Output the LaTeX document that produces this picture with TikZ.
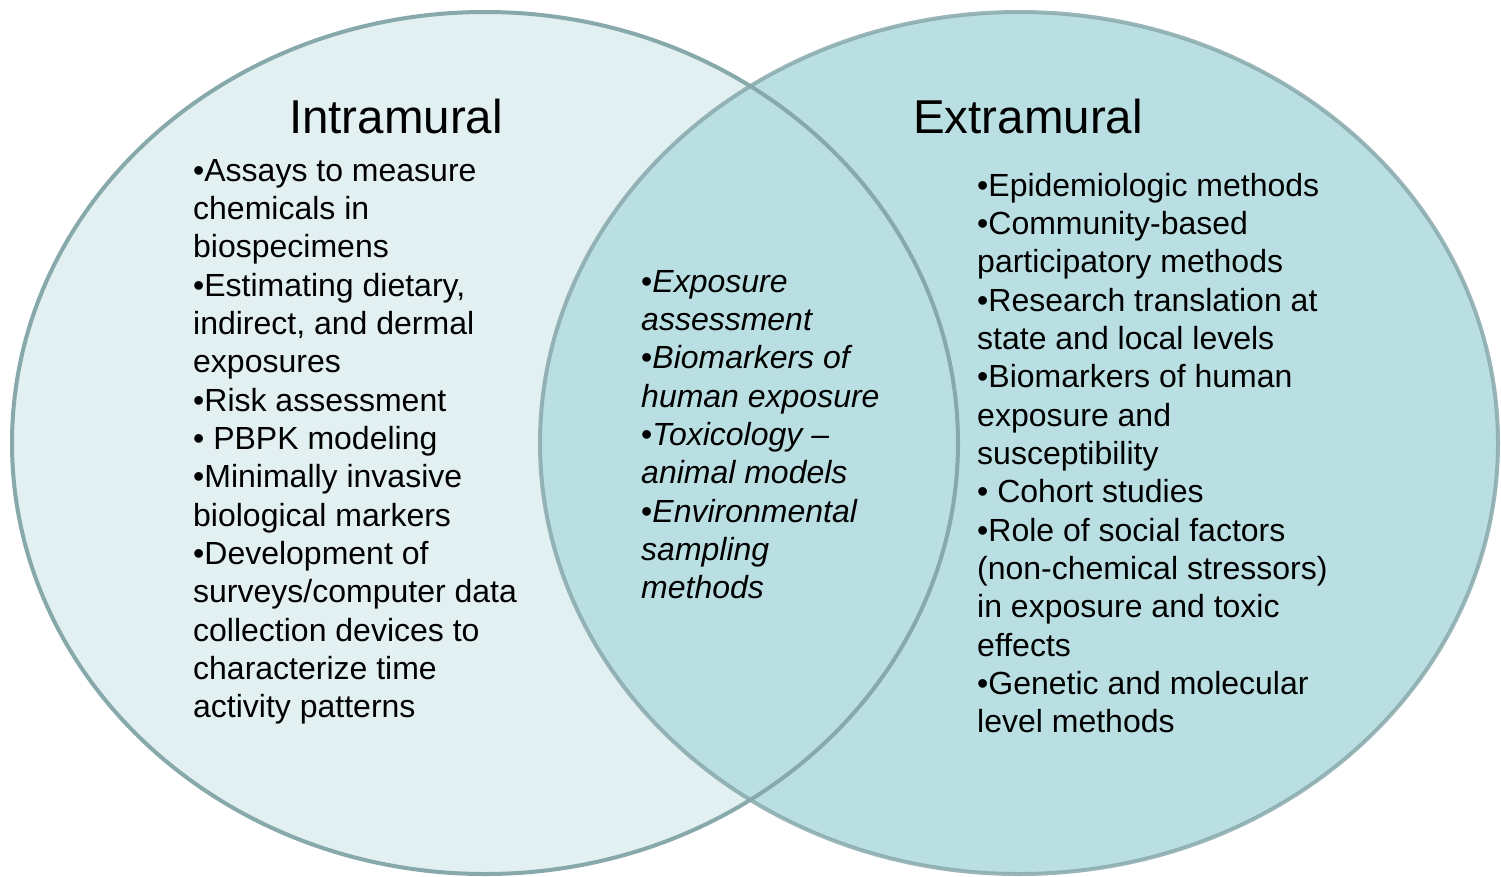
\documentclass[tikz,border=0pt]{standalone}
\usepackage{fontspec}
\setmainfont{Liberation Sans}
\definecolor{leftfill}{HTML}{E2F0F2}
\definecolor{rightfill}{HTML}{B9DFE2}
\definecolor{rimcol}{HTML}{88A9AC}
\begin{document}
\begin{tikzpicture}[x=1pt,y=-1pt,
  rim/.style={draw=rimcol,line width=4pt},
  title/.style={inner sep=0pt,anchor=base,font=\fontsize{47.5}{57}\selectfont},
  item/.style={inner sep=0pt,anchor=base west,font=\fontsize{32}{38.3}\selectfont}]
\useasboundingbox (0,0) rectangle (1501,876);
% fills
\fill[leftfill] (485,443) ellipse [x radius=473, y radius=431];
\fill[rightfill] (1019,443) ellipse [x radius=479, y radius=431];
% borders
\draw[rim] (485,443) ellipse [x radius=473, y radius=431];
\draw[rim,draw opacity=0.85] (1019,443) ellipse [x radius=479, y radius=431];
% titles
\node[title] (tI) at (396,133) {Intramural};
\node[title] (tE) at (1028,133) {Extramural};
% left list
\foreach \t [count=\i from 0] in {{•Assays to measure},{chemicals in},{biospecimens},{•Estimating dietary,},{indirect, and dermal},{exposures},{•Risk assessment},{• PBPK modeling},{•Minimally invasive},{biological markers},{•Development of},{surveys/computer data},{collection devices to},{characterize time},{activity patterns}}
  \node[item] (l\i) at (193,181+\i*38.35) {\t};
% middle list
\foreach \t [count=\i from 0] in {{•\textit{Exposure}},{\textit{assessment}},{•\textit{Biomarkers of}},{\textit{human exposure}},{•\textit{Toxicology –}},{\textit{animal models}},{•\textit{Environmental}},{\textit{sampling}},{\textit{methods}}}
  \node[item] (m\i) at (641,292+\i*38.35) {\t};
% right list
\foreach \t [count=\i from 0] in {{•Epidemiologic methods},{•Community-based},{participatory methods},{•Research translation at},{state and local levels},{•Biomarkers of human},{exposure and},{susceptibility},{• Cohort studies},{•Role of social factors},{(non-chemical stressors)},{in exposure and toxic},{effects},{•Genetic and molecular},{level methods}}
  \node[item] (r\i) at (977,196+\i*38.35) {\t};
\end{tikzpicture}
\end{document}
